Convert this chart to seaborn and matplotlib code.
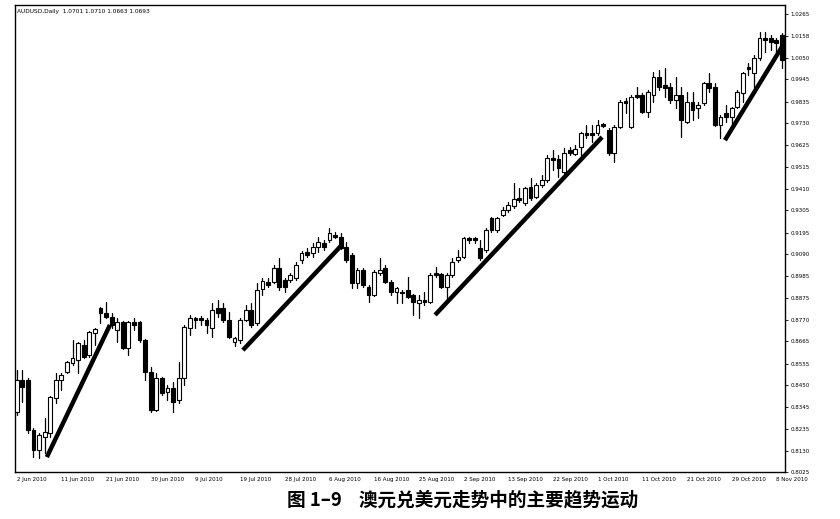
import numpy as np
import pandas as pd
import seaborn as sns
import matplotlib.pyplot as plt

# AUDUSD daily bars (2 Jun 2010 .. 9 Nov 2010)
opens = [0.8318, 0.8475, 0.8475, 0.8230, 0.8133, 0.8197, 0.8216, 0.8387, 0.8475, 0.8514,
         0.8558, 0.8573, 0.8646, 0.8597, 0.8705, 0.8827, 0.8802, 0.8783, 0.8719, 0.8758,
         0.8631, 0.8758, 0.8758, 0.8670, 0.8514, 0.8328, 0.8485, 0.8416, 0.8436, 0.8377,
         0.8485, 0.8729, 0.8778, 0.8778, 0.8768, 0.8729, 0.8827, 0.8827, 0.8768, 0.8661,
         0.8670, 0.8768, 0.8817, 0.8754, 0.8920, 0.8954, 0.8954, 0.9023, 0.8964, 0.8964,
         0.8974, 0.9062, 0.9101, 0.9096, 0.9125, 0.9145, 0.9159, 0.9184, 0.9174, 0.9125,
         0.9086, 0.8949, 0.9013, 0.8930, 0.8891, 0.8998, 0.9023, 0.8954, 0.8905, 0.8905,
         0.8915, 0.8891, 0.8851, 0.8866, 0.8856, 0.8998, 0.8994, 0.8930, 0.8989, 0.9062,
         0.9076, 0.9169, 0.9169, 0.9120, 0.9110, 0.9267, 0.9208, 0.9282, 0.9306, 0.9326,
         0.9365, 0.9340, 0.9419, 0.9370, 0.9428, 0.9453, 0.9560, 0.9556, 0.9493, 0.9600,
         0.9580, 0.9614, 0.9683, 0.9683, 0.9683, 0.9727, 0.9697, 0.9585, 0.9712, 0.9839,
         0.9712, 0.9869, 0.9869, 0.9785, 0.9869, 0.9956, 0.9917, 0.9908, 0.9844, 0.9869,
         0.9737, 0.9834, 0.9805, 0.9829, 0.9927, 0.9908, 0.9722, 0.9780, 0.9761, 0.9810,
         0.9878, 1.0005, 0.9976, 1.0049, 1.0147, 1.0147, 1.0137, 1.0162]
highs = [0.8524, 0.8524, 0.8485, 0.8240, 0.8216, 0.8289, 0.8398, 0.8509, 0.8509, 0.8568,
         0.8670, 0.8660, 0.8670, 0.8715, 0.8729, 0.8832, 0.8856, 0.8802, 0.8778, 0.8763,
         0.8763, 0.8778, 0.8763, 0.8675, 0.8538, 0.8509, 0.8489, 0.8450, 0.8465, 0.8563,
         0.8744, 0.8793, 0.8783, 0.8788, 0.8778, 0.8851, 0.8866, 0.8851, 0.8807, 0.8685,
         0.8778, 0.8842, 0.8851, 0.8949, 0.8974, 0.8974, 0.9037, 0.9071, 0.8974, 0.8998,
         0.9052, 0.9106, 0.9120, 0.9145, 0.9174, 0.9159, 0.9218, 0.9199, 0.9194, 0.9150,
         0.9096, 0.9023, 0.9023, 0.8939, 0.9013, 0.9071, 0.9037, 0.8964, 0.8930, 0.8915,
         0.8979, 0.8896, 0.8891, 0.8905, 0.8998, 0.9028, 0.8998, 0.8998, 0.9071, 0.9110,
         0.9174, 0.9174, 0.9174, 0.9159, 0.9218, 0.9272, 0.9272, 0.9321, 0.9345, 0.9438,
         0.9414, 0.9419, 0.9463, 0.9438, 0.9477, 0.9575, 0.9600, 0.9575, 0.9609, 0.9614,
         0.9624, 0.9688, 0.9722, 0.9722, 0.9746, 0.9732, 0.9707, 0.9722, 0.9844, 0.9854,
         0.9869, 0.9908, 0.9878, 0.9893, 0.9981, 0.9991, 1.0000, 0.9927, 0.9956, 0.9908,
         0.9883, 0.9883, 0.9834, 0.9932, 0.9976, 0.9927, 0.9771, 0.9820, 0.9810, 0.9893,
         0.9981, 1.0025, 1.0064, 1.0177, 1.0177, 1.0162, 1.0147, 1.0172]
lows = [0.8304, 0.8367, 0.8216, 0.8098, 0.8093, 0.8118, 0.8197, 0.8362, 0.8426, 0.8509,
        0.8548, 0.8509, 0.8582, 0.8587, 0.8646, 0.8754, 0.8778, 0.8729, 0.8661, 0.8626,
        0.8597, 0.8719, 0.8661, 0.8475, 0.8318, 0.8323, 0.8401, 0.8377, 0.8318, 0.8362,
        0.8450, 0.8695, 0.8729, 0.8744, 0.8705, 0.8685, 0.8783, 0.8758, 0.8680, 0.8641,
        0.8656, 0.8763, 0.8734, 0.8744, 0.8891, 0.8930, 0.8949, 0.8915, 0.8905, 0.8954,
        0.8964, 0.9047, 0.9076, 0.9076, 0.9101, 0.9110, 0.9150, 0.9169, 0.9115, 0.9052,
        0.8925, 0.8925, 0.8930, 0.8856, 0.8886, 0.8989, 0.8949, 0.8891, 0.8851, 0.8851,
        0.8876, 0.8793, 0.8778, 0.8842, 0.8851, 0.8979, 0.8925, 0.8866, 0.8979, 0.9052,
        0.9071, 0.9145, 0.9145, 0.9062, 0.9101, 0.9199, 0.9199, 0.9277, 0.9296, 0.9316,
        0.9345, 0.9331, 0.9355, 0.9365, 0.9419, 0.9443, 0.9502, 0.9468, 0.9488, 0.9575,
        0.9575, 0.9575, 0.9658, 0.9639, 0.9673, 0.9712, 0.9575, 0.9541, 0.9707, 0.9780,
        0.9707, 0.9854, 0.9780, 0.9761, 0.9834, 0.9893, 0.9859, 0.9829, 0.9805, 0.9663,
        0.9732, 0.9746, 0.9756, 0.9820, 0.9883, 0.9717, 0.9658, 0.9737, 0.9722, 0.9805,
        0.9834, 0.9966, 0.9903, 1.0040, 1.0079, 1.0089, 1.0079, 1.0000]
closes = [0.8475, 0.8441, 0.8230, 0.8133, 0.8206, 0.8221, 0.8392, 0.8475, 0.8499, 0.8563,
          0.8582, 0.8656, 0.8587, 0.8710, 0.8724, 0.8802, 0.8783, 0.8744, 0.8758, 0.8631,
          0.8758, 0.8744, 0.8670, 0.8514, 0.8328, 0.8485, 0.8411, 0.8436, 0.8367, 0.8485,
          0.8734, 0.8778, 0.8768, 0.8768, 0.8744, 0.8817, 0.8802, 0.8768, 0.8685, 0.8680,
          0.8768, 0.8817, 0.8744, 0.8915, 0.8959, 0.8939, 0.9023, 0.8930, 0.8930, 0.8989,
          0.9037, 0.9096, 0.9086, 0.9125, 0.9150, 0.9125, 0.9194, 0.9174, 0.9120, 0.9062,
          0.8949, 0.9013, 0.8939, 0.8891, 0.9003, 0.9013, 0.8954, 0.8905, 0.8925, 0.8900,
          0.8881, 0.8856, 0.8866, 0.8856, 0.8989, 0.8989, 0.8930, 0.8989, 0.9052, 0.9076,
          0.9169, 0.9159, 0.9159, 0.9071, 0.9208, 0.9208, 0.9267, 0.9306, 0.9331, 0.9360,
          0.9355, 0.9414, 0.9365, 0.9428, 0.9453, 0.9560, 0.9551, 0.9512, 0.9585, 0.9585,
          0.9604, 0.9683, 0.9673, 0.9673, 0.9722, 0.9717, 0.9585, 0.9712, 0.9834, 0.9829,
          0.9859, 0.9859, 0.9785, 0.9883, 0.9956, 0.9908, 0.9903, 0.9844, 0.9869, 0.9746,
          0.9834, 0.9795, 0.9820, 0.9927, 0.9903, 0.9722, 0.9761, 0.9761, 0.9805, 0.9883,
          0.9976, 0.9996, 1.0049, 1.0147, 1.0137, 1.0128, 1.0123, 1.0040]

date_labels = ['2 Jun 2010', '11 Jun 2010', '21 Jun 2010', '30 Jun 2010', '9 Jul 2010',
               '19 Jul 2010', '28 Jul 2010', '6 Aug 2010', '16 Aug 2010', '25 Aug 2010',
               '2 Sep 2010', '13 Sep 2010', '22 Sep 2010', '1 Oct 2010', '11 Oct 2010',
               '21 Oct 2010', '29 Oct 2010', '8 Nov 2010']
price_labels = ['0.8025', '0.8130', '0.8235', '0.8345', '0.8450', '0.8555', '0.8665',
                '0.8770', '0.8875', '0.8985', '0.9090', '0.9195', '0.9305', '0.9410',
                '0.9515', '0.9625', '0.9730', '0.9835', '0.9945', '1.0050', '1.0158',
                '1.0265']

# hand-drawn trend lines: (bar, price) start and end
trend_x0 = [5.4, 40.5, 74.9, 126.8]
trend_y0 = [0.8098, 0.8621, 0.8793, 0.9648]
trend_x1 = [16.7, 58.2, 104.8, 137.2]
trend_y1 = [0.8744, 0.9135, 0.9663, 1.0113]

header = 'AUDUSD,Daily  1.0701 1.0710 1.0663 1.0693'
caption = '图 1–9    澳元兑美元走势中的主要趋势运动'

sns.set_style('white')
plt.rcParams['font.family'] = ['DejaVu Sans', 'Noto Sans CJK SC']

df = pd.DataFrame({'bar': np.arange(len(opens)), 'open': opens, 'high': highs,
                   'low': lows, 'close': closes})
df['bottom'] = df[['open', 'close']].min(axis=1)
df['height'] = (df['close'] - df['open']).abs().clip(lower=0.0006)
df['up'] = df['close'] >= df['open']

fig = plt.figure(figsize=(8.4, 5.19), dpi=100)
ax = fig.add_axes([15 / 840, 1 - 472 / 519, 770 / 840, 467 / 519])

wicks = df.melt(id_vars='bar', value_vars=['high', 'low'], value_name='price')
sns.lineplot(data=wicks, x='bar', y='price', units='bar', estimator=None, sort=False,
             color='black', linewidth=0.9, ax=ax)

for is_up, face in [(True, 'white'), (False, 'black')]:
    sub = df[df['up'] == is_up]
    sns.barplot(data=sub, x='bar', y='height', bottom=sub['bottom'].values,
                native_scale=True, width=0.68, color=face, edgecolor='black',
                linewidth=0.8, saturation=1, errorbar=None, zorder=3, ax=ax)

for i in range(len(trend_x0)):
    seg = pd.DataFrame({'bar': [trend_x0[i], trend_x1[i]],
                        'price': [trend_y0[i], trend_y1[i]]})
    sns.lineplot(data=seg, x='bar', y='price', color='black', linewidth=3.2,
                 solid_capstyle='butt', zorder=4, ax=ax)

ax.set_xlim(-0.3, 137.55)
ax.set_ylim(0.8025, 1.0309)
ax.set_xlabel('')
ax.set_ylabel('')

ax.set_xticks(np.arange(0, 8 * len(date_labels), 8))
ax.set_xticklabels(date_labels, fontsize=4, ha='left')
ax.yaxis.tick_right()
ax.set_yticks([float(p) for p in price_labels])
ax.set_yticklabels(price_labels, fontsize=4)
ax.tick_params(axis='x', length=2, width=0.6, pad=1.5, direction='out', colors='black')
ax.tick_params(axis='y', length=2, width=0.6, pad=2, direction='out', colors='black')

for side in ax.spines.values():
    side.set_color('black')
    side.set_linewidth(1)

ax.text(0.003, 0.991, header, transform=ax.transAxes, fontsize=4.2,
        va='top', ha='left', color='black')

fig.text(287 / 840, 1 - 500 / 519, caption, fontsize=13.4, fontweight='bold',
         family=['Noto Sans CJK SC', 'DejaVu Sans'], ha='left', va='center',
         color='black')

fig.savefig('out.png', dpi=100)
